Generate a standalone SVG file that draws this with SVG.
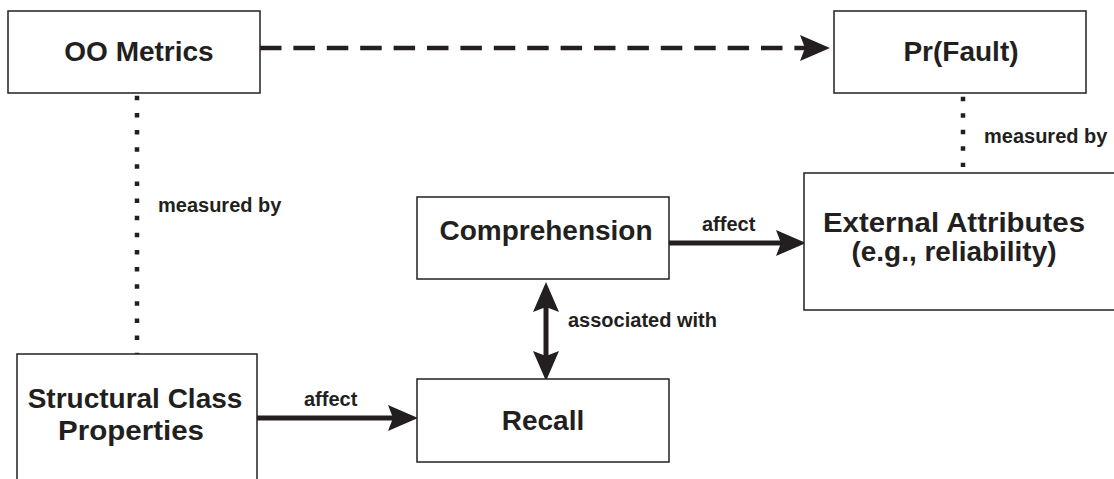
<svg xmlns="http://www.w3.org/2000/svg" width="1114" height="479" viewBox="0 0 1114 479">
<style>
  .box { fill: #ffffff; stroke: #231f20; stroke-width: 1.5; }
  .title { font-family: "Liberation Sans", Arial, sans-serif; font-weight: bold; font-size: 28px; fill: #231f20; text-anchor: middle; }
  .lbl { font-family: "Liberation Sans", Arial, sans-serif; font-weight: bold; font-size: 20px; fill: #231f20; }
  .solid { stroke: #231f20; stroke-width: 5; fill: none; }
  .dashed { stroke: #231f20; stroke-width: 4.5; fill: none; stroke-dasharray: 21.5 11.9; }
  .dotted { stroke: #231f20; stroke-width: 4.5; fill: none; }
  .head { fill: #231f20; }
</style>
<defs>
  <path id="ah" d="M0,0 L-30,-13 L-25,0 L-30,13 Z"/>
</defs>
<rect width="1114" height="479" fill="#ffffff"/>

<g id="connectors">
  <line class="dashed" x1="260" y1="48" x2="805" y2="48"/>
  <use href="#ah" class="head" transform="translate(830,48)"/>
  <line class="dotted" x1="137" y1="95.75" x2="137" y2="357" stroke-dasharray="4.5 12.63"/>
  <line class="dotted" x1="963" y1="96.75" x2="963" y2="167" stroke-dasharray="4.5 12"/>
  <line class="solid" x1="669" y1="243" x2="782" y2="243"/>
  <use href="#ah" class="head" transform="translate(806,243)"/>
  <line class="solid" x1="257" y1="418" x2="394" y2="418"/>
  <use href="#ah" class="head" transform="translate(418,418)"/>
  <line class="solid" x1="546" y1="305" x2="546" y2="358"/>
  <use href="#ah" class="head" transform="translate(546,282) rotate(-90)"/>
  <use href="#ah" class="head" transform="translate(546,381) rotate(90)"/>
  <text class="lbl" x="158" y="212">measured by</text>
  <text class="lbl" x="984" y="143">measured by</text>
  <text class="lbl" x="702" y="231">affect</text>
  <text class="lbl" x="304" y="406">affect</text>
  <text class="lbl" x="568" y="327">associated with</text>
</g>

<g id="oo-metrics">
  <rect class="box" x="8" y="11" width="252" height="82"/>
  <text class="title" x="139" y="61">OO Metrics</text>
</g>
<g id="pr-fault">
  <rect class="box" x="834" y="11" width="252" height="82"/>
  <text class="title" x="961" y="61">Pr(Fault)</text>
</g>
<g id="comprehension">
  <rect class="box" x="417" y="197" width="252" height="82"/>
  <text class="title" x="546" y="240">Comprehension</text>
</g>
<g id="external-attributes">
  <rect class="box" x="804" y="173" width="320" height="137"/>
  <text class="title" x="954" y="232" textLength="262" lengthAdjust="spacingAndGlyphs">External Attributes</text>
  <text class="title" x="954" y="261" textLength="205" lengthAdjust="spacingAndGlyphs">(e.g., reliability)</text>
</g>
<g id="structural-class-properties">
  <rect class="box" x="17" y="354" width="240" height="140"/>
  <text class="title" x="135" y="408">Structural Class</text>
  <text class="title" x="131" y="440" textLength="146" lengthAdjust="spacingAndGlyphs">Properties</text>
</g>
<g id="recall">
  <rect class="box" x="417" y="379" width="252" height="83"/>
  <text class="title" x="543" y="430">Recall</text>
</g>
</svg>
